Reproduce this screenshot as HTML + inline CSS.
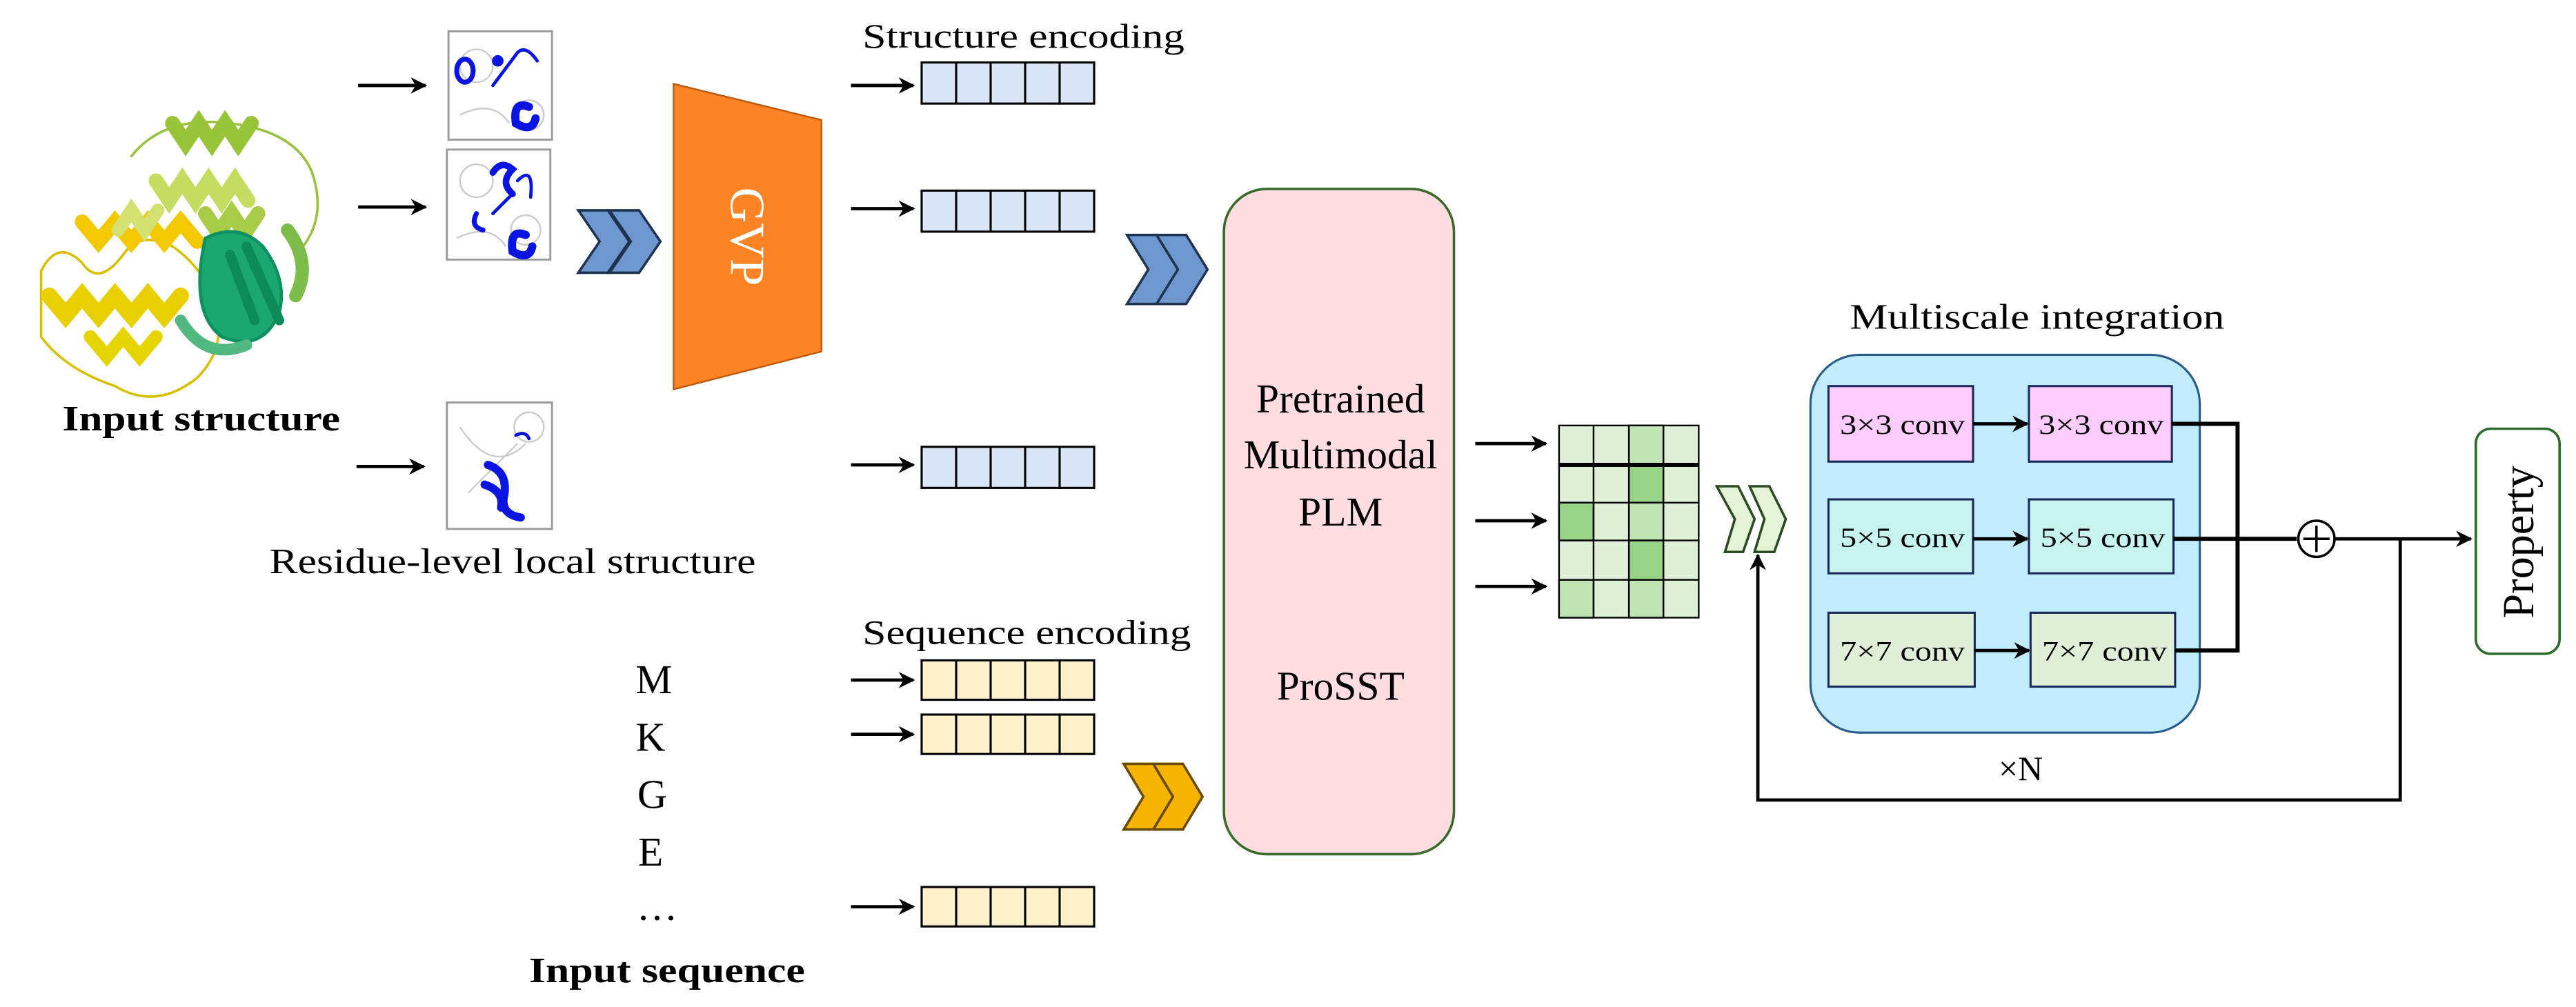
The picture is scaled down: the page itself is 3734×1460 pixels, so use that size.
<!DOCTYPE html>
<html><head><meta charset="utf-8"><style>
html,body{margin:0;padding:0;background:#fff}
svg{display:block}
text{font-family:"Liberation Serif",serif}
</style></head><body>
<svg width="3734" height="1460" viewBox="0 0 1568 613" xmlns="http://www.w3.org/2000/svg">
<defs>
<marker id="ah" viewBox="0 0 10 10" refX="9" refY="5" markerWidth="5" markerHeight="5" orient="auto"><path d="M0,0 L10,5 L0,10 L3,5 z" fill="#000"/></marker>
</defs>
<!-- protein -->
<g fill="none" stroke-linecap="round">
<path d="M25,165 q10,-20 25,-5 q10,15 25,-5 q10,-15 30,-5 q15,10 25,30 q10,30 -10,50 q-25,20 -50,5 q-30,-10 -45,-30 z" stroke="#d8c000" stroke-width="1.5"/>
<path d="M50,135 l10,12 l10,-12 l10,12 l10,-12 l10,12 l10,-12 l10,12" stroke="#f2c800" stroke-width="9"/>
<path d="M30,180 l10,12 l10,-12 l10,12 l10,-12 l10,12 l10,-12 l10,12 l10,-12" stroke="#e8d000" stroke-width="10"/>
<path d="M55,205 l10,12 l10,-12 l10,12 l10,-12" stroke="#e6d400" stroke-width="8"/>
<path d="M80,95 q20,-25 60,-20 q40,5 50,30 q10,30 -10,50" stroke="#9cc040" stroke-width="1.5"/>
<path d="M105,75 l8,12 l8,-12 l8,12 l8,-12 l8,12 l8,-12" stroke="#98c438" stroke-width="9"/>
<path d="M95,110 l8,12 l8,-12 l8,12 l8,-12 l8,12 l8,-12 l8,12" stroke="#c4dc60" stroke-width="9"/>
<path d="M125,130 l8,12 l8,-12 l8,12 l8,-12" stroke="#a8cc48" stroke-width="9"/>
<path d="M72,140 l8,-12 l8,12 l8,-12" stroke="#d4e070" stroke-width="8"/>
<path d="M125,145 q20,-10 35,5 q15,20 10,40 q-10,25 -35,15 q-20,-15 -10,-60 z" fill="#1aa870" stroke="#0e9060" stroke-width="2"/>
<path d="M140,155 l15,40 M150,150 l20,45" stroke="#0c8a58" stroke-width="6"/>
<path d="M175,140 q15,20 5,40" stroke="#7cbc48" stroke-width="8"/>
<path d="M110,195 q15,25 40,15" stroke="#50b880" stroke-width="7"/>
</g>
<text x="38" y="262" font-size="22" font-weight="bold" textLength="169" lengthAdjust="spacingAndGlyphs">Input structure</text>
<!-- thumbnails -->
<g stroke="#999" stroke-width="1.2" fill="#fff">
<rect x="273" y="19" width="63" height="66"/>
<rect x="272" y="91" width="63" height="67"/>
<rect x="272" y="245" width="64" height="77"/>
</g>
<g fill="none" stroke="#ccc" stroke-width="1">
<circle cx="290" cy="40" r="10"/><circle cx="322" cy="70" r="9"/><path d="M280,70 q20,-10 30,5"/>
<circle cx="290" cy="110" r="10"/><circle cx="320" cy="140" r="9"/><path d="M278,145 q20,-10 30,5"/>
<circle cx="322" cy="260" r="9"/><path d="M280,260 q20,30 40,10 M285,300 l30,-30"/>
</g>
<g fill="none" stroke="#0a14e0" stroke-linecap="round">
<ellipse cx="283" cy="43" rx="5" ry="7" stroke-width="3"/><path d="M300,52 l15,-20 q5,-5 12,5" stroke-width="2"/><path d="M322,65 q-10,-4 -8,10 q10,6 12,-3" stroke-width="5"/><circle cx="303" cy="37" r="3" fill="#0a14e0"/>
<path d="M300,105 q5,-8 12,-2 q-8,8 0,15" stroke-width="4"/><path d="M315,110 q10,-10 8,10" stroke-width="2"/><path d="M290,130 q-4,8 4,10" stroke-width="3"/><path d="M300,130 l12,-12" stroke-width="2"/><path d="M320,143 q-10,-4 -8,10 q10,6 12,-3" stroke-width="5"/>
<path d="M297,283 q12,4 10,18 q-3,12 10,14 M295,295 q12,4 10,14" stroke-width="5"/><path d="M314,265 q6,-3 8,2" stroke-width="2"/>
</g>
<!-- arrows left -->
<g stroke="#000" stroke-width="2" marker-end="url(#ah)">
<line x1="218" y1="52" x2="259" y2="52"/>
<line x1="218" y1="126" x2="259" y2="126"/>
<line x1="217" y1="284" x2="258" y2="284"/>
<line x1="518" y1="52" x2="556" y2="52"/>
<line x1="518" y1="127" x2="556" y2="127"/>
<line x1="518" y1="283" x2="556" y2="283"/>
<line x1="518" y1="414" x2="556" y2="414"/>
<line x1="518" y1="447" x2="556" y2="447"/>
<line x1="518" y1="552" x2="556" y2="552"/>
<line x1="898" y1="270" x2="941" y2="270"/>
<line x1="898" y1="317" x2="941" y2="317"/>
<line x1="898" y1="357" x2="941" y2="357"/>
</g>
<text x="164" y="349" font-size="22" textLength="296" lengthAdjust="spacingAndGlyphs">Residue-level local structure</text>
<!-- chevrons -->
<g stroke="#1f3350" stroke-width="1.5" fill="#6f97cf">
<polygon points="352,128 370,128 383,147 370,166 352,166 365,147"/>
<polygon points="371,128 389,128 402,147 389,166 371,166 384,147"/>
<polygon points="686,143 704,143 717,164 704,185 686,185 699,164"/>
<polygon points="704,143 722,143 735,164 722,185 704,185 717,164"/>
</g>
<g stroke="#6a4a00" stroke-width="1.5" fill="#f4b400">
<polygon points="684,465 702,465 714,485 702,505 684,505 696,485"/>
<polygon points="702,465 720,465 732,485 720,505 702,505 714,485"/>
</g>
<g stroke="#2a4a20" stroke-width="1.5" fill="#e4f2d8">
<polygon points="1045,296 1058,296 1068,316 1061,336 1050,336 1056,316"/>
<polygon points="1065,296 1077,296 1087,316 1080,336 1068,336 1074,316"/>
</g>
<!-- GVP -->
<polygon points="410,51 500,73 500,214 410,237" fill="#fd8424" stroke="#b85a10" stroke-width="1"/>
<text x="0" y="0" font-size="30" fill="#fff" text-anchor="middle" transform="translate(445,144) rotate(90)">GVP</text>
<!-- encodings -->
<text x="525" y="29" font-size="21" textLength="196" lengthAdjust="spacingAndGlyphs">Structure encoding</text>
<text x="525" y="392" font-size="21" textLength="200" lengthAdjust="spacingAndGlyphs">Sequence encoding</text>
<g stroke="#000" stroke-width="1.3">
<g fill="#dae6f7">
<rect x="561" y="38" width="105" height="25"/><rect x="561" y="116" width="105" height="25"/><rect x="561" y="272" width="105" height="25"/>
</g>
<g fill="#fdf1cc">
<rect x="561" y="402" width="105" height="24"/><rect x="561" y="435" width="105" height="24"/><rect x="561" y="540" width="105" height="24"/>
</g>
<path fill="none" d="M582,38v25M603,38v25M624,38v25M645,38v25 M582,116v25M603,116v25M624,116v25M645,116v25 M582,272v25M603,272v25M624,272v25M645,272v25 M582,402v24M603,402v24M624,402v24M645,402v24 M582,435v24M603,435v24M624,435v24M645,435v24 M582,540v24M603,540v24M624,540v24M645,540v24"/>
</g>
<g font-size="25" text-anchor="middle">
<text x="398" y="422">M</text><text x="396" y="457">K</text><text x="397" y="492">G</text><text x="396" y="527">E</text><text x="400" y="560">…</text>
</g>
<text x="322" y="598" font-size="22" font-weight="bold" textLength="168" lengthAdjust="spacingAndGlyphs">Input sequence</text>
<!-- PLM -->
<rect x="745" y="115" width="140" height="405" rx="26" fill="#ffdde0" stroke="#3a6a2a" stroke-width="1.5"/>
<g font-size="25" text-anchor="middle">
<text x="816" y="251">Pretrained</text><text x="816" y="285">Multimodal</text><text x="816" y="320">PLM</text><text x="816" y="426">ProSST</text>
</g>
<!-- grid -->
<g stroke="#000" stroke-width="1">
<rect x="949" y="259" width="85" height="117" fill="#e0f0d8"/>
<rect x="991.5" y="259" width="21" height="24" fill="#c0e4b4"/>
<rect x="991.5" y="283" width="21" height="23" fill="#98d488"/>
<rect x="949" y="306" width="21" height="23" fill="#98d488"/>
<rect x="991.5" y="306" width="21" height="23" fill="#c0e4b4"/>
<rect x="991.5" y="329" width="21" height="24" fill="#98d488"/>
<rect x="949" y="353" width="21" height="23" fill="#c0e4b4"/>
<rect x="991.5" y="353" width="21" height="23" fill="#c0e4b4"/>
<path fill="none" d="M970,259v117M991.5,259v117M1012.5,259v117M949,306h85M949,329h85M949,353h85"/>
<line x1="949" y1="283" x2="1034" y2="283" stroke-width="2.5"/>
</g>
<!-- multiscale -->
<text x="1126" y="200" font-size="22" textLength="228" lengthAdjust="spacingAndGlyphs">Multiscale integration</text>
<rect x="1102" y="216" width="237" height="230" rx="30" fill="#c0ecfc" stroke="#2a5a8a" stroke-width="1.3"/>
<g stroke="#1a2a5a" stroke-width="1.3">
<rect x="1113" y="235" width="88" height="46" fill="#ffccff"/><rect x="1235" y="235" width="87" height="46" fill="#ffccff"/>
<rect x="1113" y="304" width="88" height="45" fill="#c8f4f0"/><rect x="1235" y="304" width="88" height="45" fill="#c8f4f0"/>
<rect x="1113" y="373" width="89" height="45" fill="#e0f0d8"/><rect x="1236" y="373" width="88" height="45" fill="#e0f0d8"/>
</g>
<g font-size="17">
<text x="1120" y="264" textLength="76" lengthAdjust="spacingAndGlyphs">3×3 conv</text><text x="1241" y="264" textLength="76" lengthAdjust="spacingAndGlyphs">3×3 conv</text>
<text x="1120" y="333" textLength="76" lengthAdjust="spacingAndGlyphs">5×5 conv</text><text x="1242" y="333" textLength="76" lengthAdjust="spacingAndGlyphs">5×5 conv</text>
<text x="1120" y="402" textLength="76" lengthAdjust="spacingAndGlyphs">7×7 conv</text><text x="1243" y="402" textLength="76" lengthAdjust="spacingAndGlyphs">7×7 conv</text>
</g>
<g stroke="#000" stroke-width="2" marker-end="url(#ah)">
<line x1="1201" y1="258" x2="1234" y2="258"/>
<line x1="1201" y1="328" x2="1234" y2="328"/>
<line x1="1202" y1="396" x2="1235" y2="396"/>
</g>
<g stroke="#000" stroke-width="2.5" fill="none">
<path d="M1322,258 H1362 V396 H1324"/>
<path d="M1323,328 H1398"/>
</g>
<circle cx="1410" cy="328" r="11" fill="#fff" stroke="#000" stroke-width="1.5"/>
<path d="M1410,320v16M1402,328h16" stroke="#000" stroke-width="1.5"/>
<line x1="1421" y1="328" x2="1504" y2="328" stroke="#000" stroke-width="2" marker-end="url(#ah)"/>
<path d="M1461,328 V487 H1070 V338" fill="none" stroke="#000" stroke-width="2" marker-end="url(#ah)"/>
<text x="1230" y="475" font-size="21" text-anchor="middle">×N</text>
<rect x="1507" y="261" width="51" height="137" rx="9" fill="#fff" stroke="#2a6a2a" stroke-width="1.5"/>
<text x="0" y="0" font-size="27" text-anchor="middle" transform="translate(1542,330) rotate(-90)">Property</text>
</svg>
</body></html>
